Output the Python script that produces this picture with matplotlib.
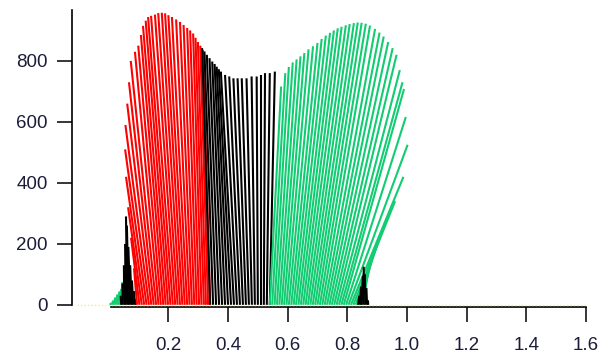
import numpy as np
import matplotlib
matplotlib.use('Agg')
import matplotlib.pyplot as plt

# Each trace is a straight stroke from (bottom_x, 0) up to (top_x, top_y).

# small green group, far left:
green_left_bottom = [0.004, 0.010, 0.016, 0.022, 0.028, 0.034, 0.040]
green_left_top_x = [0.008, 0.015, 0.022, 0.029, 0.036, 0.042, 0.046]
green_left_top_y = [6, 14, 24, 34, 44, 52, 75]

# small black group, left:
black_left_bottom = [0.042, 0.047, 0.052, 0.057, 0.062, 0.067, 0.072,
                     0.077, 0.082, 0.087, 0.092]
black_left_top_x = [0.040, 0.046, 0.051, 0.055, 0.058, 0.061, 0.066,
                    0.072, 0.078, 0.085, 0.091]
black_left_top_y = [30, 70, 130, 200, 290, 260, 190, 130, 80, 45, 20]

# red group:
red_bottom = [0.095, 0.103, 0.111, 0.119, 0.127, 0.135, 0.143, 0.151,
              0.159, 0.167, 0.175, 0.183, 0.191, 0.199, 0.207, 0.215,
              0.223, 0.231, 0.239, 0.247, 0.255, 0.263, 0.271, 0.279,
              0.287, 0.295, 0.303, 0.311, 0.319, 0.326, 0.333, 0.340]
red_top_x = [0.085, 0.075, 0.065, 0.058, 0.055, 0.056, 0.062, 0.068,
             0.074, 0.088, 0.099, 0.108, 0.115, 0.124, 0.132, 0.142,
             0.155, 0.166, 0.178, 0.189, 0.200, 0.212, 0.226, 0.239,
             0.251, 0.263, 0.273, 0.283, 0.291, 0.299, 0.307, 0.316]
red_top_y = [120, 220, 320, 420, 510, 590, 660, 730,
             800, 830, 850, 885, 915, 932, 944, 948,
             952, 957, 958, 956, 950, 944, 936, 928,
             918, 908, 900, 890, 876, 862, 850, 836]

# black group, middle:
black_mid_bottom = [0.340, 0.350, 0.360, 0.370, 0.380, 0.390, 0.400,
                    0.410, 0.420, 0.430, 0.440, 0.450, 0.460, 0.470,
                    0.480, 0.490, 0.500, 0.510, 0.520, 0.530, 0.540]
black_mid_top_x = [0.313, 0.321, 0.329, 0.338, 0.347, 0.355, 0.362,
                   0.369, 0.376, 0.390, 0.404, 0.418, 0.432, 0.446,
                   0.462, 0.479, 0.496, 0.510, 0.524, 0.540, 0.557]
black_mid_top_y = [842, 831, 820, 809, 798, 790, 781,
                   773, 765, 754, 749, 743, 743, 743,
                   743, 749, 749, 755, 760, 760, 765]

# green group, right:
green_bottom = [0.540, 0.548, 0.556, 0.564, 0.572, 0.580, 0.588, 0.596,
                0.604, 0.612, 0.620, 0.628, 0.636, 0.644, 0.652, 0.660,
                0.668, 0.676, 0.684, 0.692, 0.700, 0.708, 0.716, 0.724,
                0.732, 0.740, 0.748, 0.756, 0.764, 0.772, 0.780, 0.788,
                0.796, 0.804, 0.812, 0.820, 0.828, 0.836, 0.844, 0.852]
green_top_x = [0.578, 0.592, 0.604, 0.617, 0.630, 0.643, 0.656, 0.670,
               0.685, 0.700, 0.714, 0.728, 0.742, 0.755, 0.768, 0.781,
               0.795, 0.808, 0.822, 0.835, 0.848, 0.862, 0.876, 0.893,
               0.908, 0.922, 0.937, 0.952, 0.965, 0.976, 0.985, 0.990,
               0.996, 1.002, 0.988, 0.960, 0.935, 0.910, 0.890, 0.875]
green_top_y = [716, 760, 780, 795, 805, 815, 826, 838,
               848, 859, 872, 883, 892, 900, 907, 912,
               917, 921, 924, 926, 925, 922, 916, 905,
               893, 880, 862, 842, 820, 770, 730, 708,
               616, 525, 420, 340, 290, 230, 180, 140]

# small black group, right:
black_right_bottom = [0.836, 0.842, 0.848, 0.854, 0.860, 0.866, 0.870]
black_right_top_x = [0.840, 0.846, 0.852, 0.855, 0.859, 0.864, 0.869]
black_right_top_y = [30, 60, 95, 125, 100, 55, 15]

# flat baseline trace:
baseline_x = [-0.105, 1.6]
baseline_y = [0, 0]

x_ticks = [0.2, 0.4, 0.6, 0.8, 1.0, 1.2, 1.4, 1.6]
y_ticks = [0, 200, 400, 600, 800]

red = '#ff0000'
black = '#000000'
green = '#12cc72'
label_color = '#1c1c3a'

def draw_strokes(ax, bottom_x, top_x, top_y, color):
    for xb, xt, yt in zip(bottom_x, top_x, top_y):
        ax.plot([xb, xt], [0, yt], color=color, lw=1.5,
                solid_capstyle='butt')

fig = plt.figure(figsize=(6.04, 3.6), dpi=100)
# axes box: left edge carries the detached y axis
ax = fig.add_axes([72 / 604, 53 / 360, 514 / 604, 297 / 360])
ax.set_xlim(-0.123, 1.6)
ax.set_ylim(-7, 967)

ax.plot(baseline_x, baseline_y, color='#f2ee88', lw=1.0,
        linestyle=(0, (1, 1.5)), zorder=3)
draw_strokes(ax, green_left_bottom, green_left_top_x, green_left_top_y, green)
draw_strokes(ax, black_left_bottom, black_left_top_x, black_left_top_y, black)
draw_strokes(ax, red_bottom, red_top_x, red_top_y, red)
draw_strokes(ax, black_mid_bottom, black_mid_top_x, black_mid_top_y, black)
draw_strokes(ax, green_bottom, green_top_x, green_top_y, green)
draw_strokes(ax, black_right_bottom, black_right_top_x, black_right_top_y,
             black)

# axes: separate left and bottom lines, no box
ax.spines['top'].set_visible(False)
ax.spines['right'].set_visible(False)
ax.spines['left'].set_bounds(0, 967)
ax.spines['bottom'].set_bounds(0.008, 1.6)
for s in ('left', 'bottom'):
    ax.spines[s].set_linewidth(1.2)

ax.set_xticks(x_ticks)
ax.set_xticklabels(['%0.1f' % v for v in x_ticks])
ax.set_yticks(y_ticks)
ax.set_yticklabels(['%i' % v for v in y_ticks])
ax.tick_params(axis='both', direction='out', length=10.8, width=1.1,
               labelsize=13.5, labelcolor=label_color)
ax.tick_params(axis='y', pad=6.5)
ax.tick_params(axis='x', pad=11)
for lab in ax.get_xticklabels() + ax.get_yticklabels():
    lab.set_family('Liberation Sans')

fig.savefig('out.png', dpi=100)
